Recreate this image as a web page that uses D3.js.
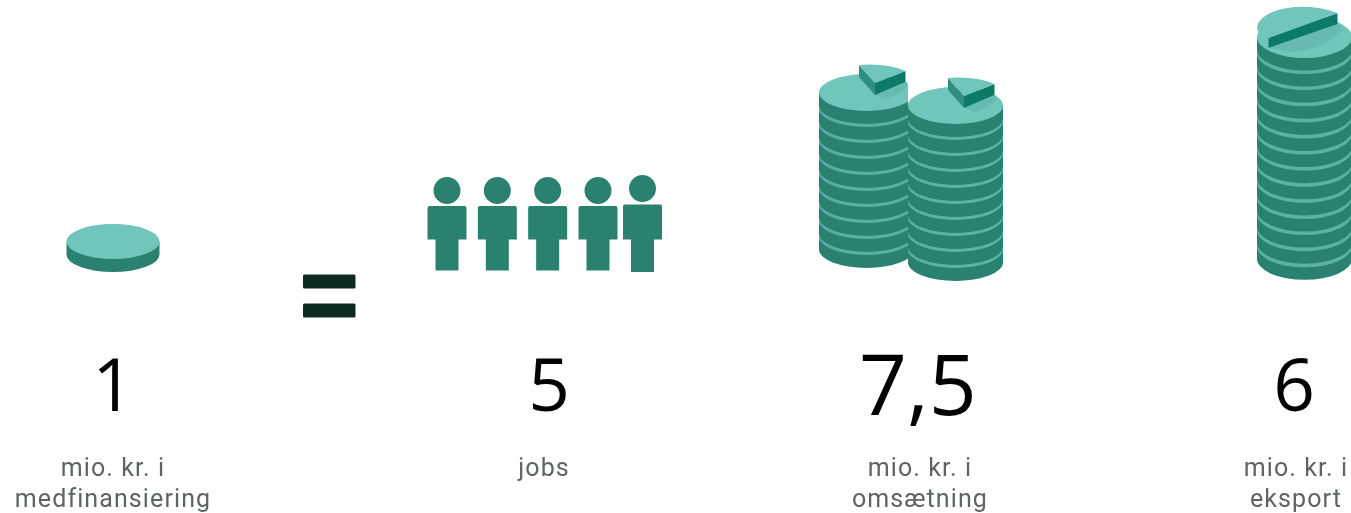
<!DOCTYPE html>
<html>
<head>
<meta charset="utf-8">
<script src="https://cdn.jsdelivr.net/npm/d3@7"></script>
<style>
  html, body { margin: 0; padding: 0; background: #fff; overflow: hidden; }
</style>
</head>
<body>
<svg></svg>
<script>
// Chart data
const categories = ["medfinansiering", "jobs", "omsaetning", "eksport"];
const numbers = ["1", "5", "7,5", "6"];
const captions = [
  ["mio. kr. i", "medfinansiering"],
  ["jobs"],
  ["mio. kr. i", "omsætning"],
  ["mio. kr. i", "eksport"]
];
const people = [0, 1, 2, 3, 4];
const stackCoins = [10, 10, 14];

const width = 1351;
const height = 513;

const light = "#6fc6bb";
const rim = "#58b3a5";
const dark = "#2a8170";
const darker = "#107a68";
const mid = "#2f8f7e";
const shade = "#66bbae";

const svg = d3.select("svg")
    .attr("width", width)
    .attr("height", height)
    .attr("viewBox", [0, 0, width, height])
    .style("display", "block");

// the reference is a soft raster, so blur everything a little
svg.append("filter").attr("id", "soft")
  .append("feGaussianBlur").attr("stdDeviation", 0.6);

// column centres for the numbers and captions
const x = d3.scaleOrdinal(categories, [113, 549, 918, 1294]);

// one coin: dark side, light top
function coin(g, cx, cy, rx, ry, thick, top) {
  g.append("path")
      .attr("d", `M${cx - rx},${cy}V${cy + thick}A${rx},${ry} 0 0 0 ${cx + rx},${cy + thick}V${cy}Z`)
      .attr("fill", dark);
  g.append("ellipse")
      .attr("cx", cx).attr("cy", cy)
      .attr("rx", rx).attr("ry", ry)
      .attr("fill", top);
}

function stack(g, cx, cy, rx, ry, count, pitch, thick) {
  d3.range(count - 1, -1, -1).forEach(i => coin(g, cx, cy + i * pitch, rx, ry, thick, i === 0 ? light : rim));
}

// single coin
coin(svg.append("g").attr("filter", "url(#soft)"), 113, 241.5, 46.5, 17.5, 13, light);

// equals sign
svg.append("g").attr("filter", "url(#soft)").selectAll("rect")
  .data([0, 1])
  .join("rect")
    .attr("x", 303)
    .attr("y", d => 274.5 + d * 29)
    .attr("width", 52.5)
    .attr("height", 14)
    .attr("rx", 1.5)
    .attr("fill", "#0e2a24");

// people
const personX = d3.scaleLinear([0, 3], [447, 598]);
const personG = svg.append("g").attr("fill", dark).attr("filter", "url(#soft)");
people.forEach(i => {
  const last = i === 4;
  const cx = last ? 642.5 : personX(i);
  const dy = last ? -1.5 : 0;
  personG.append("circle").attr("cx", cx).attr("cy", 190.5 + dy - (last ? 0.5 : 0)).attr("r", 13.5);
  personG.append("path")
      .attr("d", `M${cx - 19.5},${206 + dy + 2}q0,-2 2,-2h35q2,0 2,2V${239.5}H${cx + 11.5}V${last ? 272 : 270.5}H${cx - 11.5}V${239.5}H${cx - 19.5}Z`);
});

// coin stacks with a raised slice on top
svg.append("clipPath").attr("id", "leftStack")
  .append("rect").attr("x", 800).attr("y", 0).attr("width", 108).attr("height", height);

function slice(g, cx, cy) {
  g.append("path")
      .attr("d", `M${cx + 9},${cy + 2}L${cx + 40},${cy - 11}L${cx + 42},${cy - 8}Q${cx + 32},${cy + 3} ${cx + 20},${cy + 6}Z`)
      .attr("fill", shade);
  g.append("path")
      .attr("d", `M${cx - 7.5},${cy - 28}V${cy - 16}L${cx + 8.5},${cy + 2}V${cy - 10}Z`)
      .attr("fill", mid);
  g.append("path")
      .attr("d", `M${cx + 8.5},${cy - 10}V${cy + 2}L${cx + 39},${cy - 11}V${cy - 22}Z`)
      .attr("fill", darker);
  g.append("path")
      .attr("d", `M${cx - 7.5},${cy - 28}Q${cx + 20},${cy - 30} ${cx + 39},${cy - 22}L${cx + 8.5},${cy - 10}Z`)
      .attr("fill", light);
}

const s1 = svg.append("g").attr("clip-path", "url(#leftStack)").append("g").attr("filter", "url(#soft)");
stack(s1, 866.5, 92.5, 47.5, 18.5, stackCoins[0], 16, 13);
slice(s1, 866.5, 93);

const s2 = svg.append("g").attr("filter", "url(#soft)");
stack(s2, 955.5, 105.5, 47.5, 18.5, stackCoins[1], 16, 13);
slice(s2, 955.5, 106);

// right stack, half of the top coin lifted
const s3 = svg.append("g").attr("filter", "url(#soft)");
const rx3 = 47.5, ry3 = 21, cx3 = 1304.5, cy3 = 37;
stack(s3, cx3, cy3, rx3, ry3, stackCoins[2], 16.1, 12.5);
s3.append("path")
    .attr("d", `M${cx3 - 33},${cy3 + 11}L${cx3 + 33},${cy3 - 13}L${cx3 + 40},${cy3 - 8}Q${cx3 + 15},${cy3 + 14} ${cx3 - 12},${cy3 + 15}Z`)
    .attr("fill", shade);
s3.append("path")
    .attr("d", `M${cx3 - 36},${cy3 + 1}L${cx3 + 33},${cy3 - 24}V${cy3 - 13}L${cx3 - 36},${cy3 + 11}Z`)
    .attr("fill", darker);
s3.append("path")
    .attr("d", `M${cx3 - 47.5},${cy3 - 9}C${cx3 - 47},${cy3 - 26} ${cx3 - 5},${cy3 - 38} ${cx3 + 33},${cy3 - 24}L${cx3 - 36},${cy3 + 1}Q${cx3 - 47},${cy3 - 2} ${cx3 - 47.5},${cy3 - 9}Z`)
    .attr("fill", light);

// big numbers
svg.append("g").selectAll("text")
  .data(categories)
  .join("text")
    .attr("x", d => x(d))
    .attr("y", (d, i) => i === 2 ? 415 : 410.5)
    .attr("text-anchor", "middle")
    .attr("font-family", "'Open Sans', sans-serif")
    .attr("font-size", (d, i) => i === 2 ? 84 : 73)
    .attr("fill", "#000")
    .text((d, i) => numbers[i]);

// captions
const captionG = svg.append("g")
    .attr("font-family", "Roboto, sans-serif")
    .attr("font-size", 25)
    .attr("letter-spacing", 1.1)
    .attr("fill", "#5f6463")
    .attr("text-anchor", "middle")
    .attr("filter", "url(#soft)");
const captionX = d3.scaleOrdinal(categories, [113, 544, 920, 1296]);
categories.forEach((c, i) => {
  captions[i].forEach((line, k) => {
    captionG.append("text")
        .attr("x", captionX(c))
        .attr("y", 476 + k * 31)
        .text(line);
  });
});
</script>
</body>
</html>
